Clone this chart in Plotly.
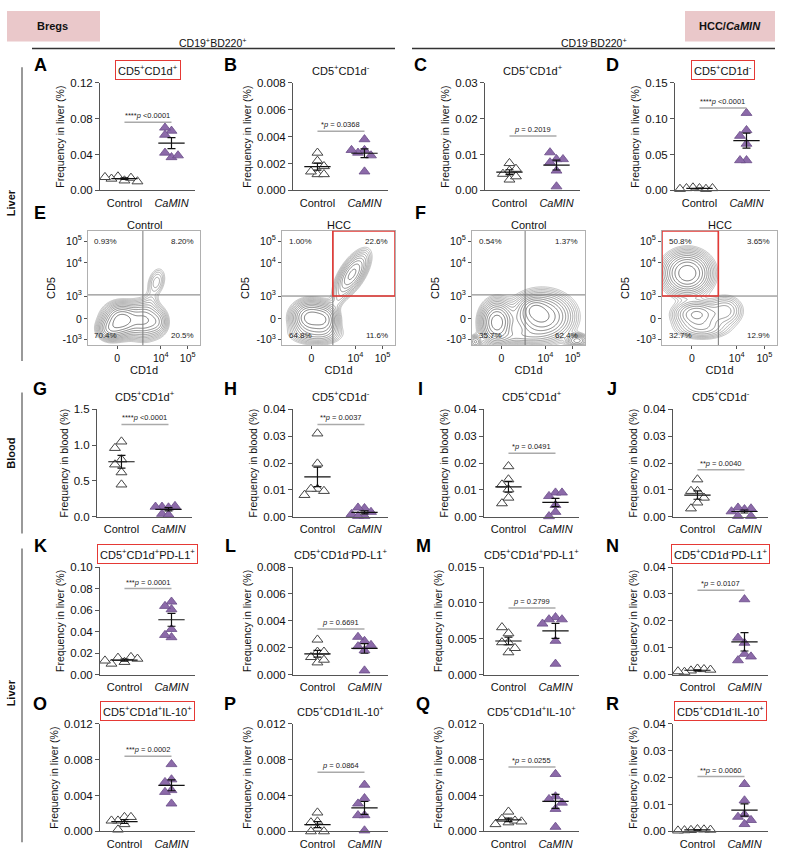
import numpy as np
import plotly.graph_objects as go

W, H = 787, 867
FONT = "Arial, Liberation Sans, Helvetica, sans-serif"
GROUPS = ["Control", "<i>CaMIN</i>"]

# ---------------- scatter data (frequency %) ----------------
A_ctrl = [0.0110, 0.0155, 0.0140, 0.0130, 0.0100, 0.0148]
A_camin = [0.0665, 0.0620, 0.0700, 0.0370, 0.0420, 0.0390]
B_ctrl = [0.0022, 0.0028, 0.0012, 0.0014, 0.0018, 0.0012]
B_camin = [0.0038, 0.0030, 0.0028, 0.0026, 0.0030, 0.0014]
C_ctrl = [0.0076, 0.0055, 0.0030, 0.0046, 0.0060, 0.0039]
C_camin = [0.0087, 0.0106, 0.0087, 0.0078, 0.0055, 0.0011]
D_ctrl = [0.0030, 0.0040, 0.0020, 0.0030, 0.0030, 0.0020]
D_camin = [0.108, 0.084, 0.076, 0.065, 0.042, 0.042]
G_ctrl = [1.05, 0.96, 0.80, 0.73, 0.62, 0.45]
G_camin = [0.13, 0.14, 0.15, 0.14, 0.04, 0.03]
H_ctrl = [0.0310, 0.0198, 0.0104, 0.0104, 0.0096, 0.0081]
H_camin = [0.0032, 0.0034, 0.0018, 0.0010, 0.0003, 0.0003]
I_ctrl = [0.0188, 0.0139, 0.0102, 0.0120, 0.0071, 0.0050]
I_camin = [0.0090, 0.0077, 0.0090, 0.0044, 0.0018, 0.0002]
J_ctrl = [0.0139, 0.0096, 0.0096, 0.0071, 0.0053, 0.0031]
J_camin = [0.0028, 0.0034, 0.0031, 0.0020, 0.0003, 0.0003]
K_ctrl = [0.0117, 0.0156, 0.0163, 0.0101, 0.0147, 0.0130]
K_camin = [0.0678, 0.0607, 0.0638, 0.0423, 0.0347, 0.0368]
L_ctrl = [0.0017, 0.0026, 0.0009, 0.0013, 0.0017, 0.0011]
L_camin = [0.0025, 0.0028, 0.0021, 0.0022, 0.0018, 0.0003]
M_ctrl = [0.00575, 0.0066, 0.0045, 0.0045, 0.0031, 0.0037]
M_camin = [0.0080, 0.0077, 0.0077, 0.0071, 0.0047, 0.0015]
N_ctrl = [0.0022, 0.0015, 0.0020, 0.0010, 0.0018, 0.0012]
N_camin = [0.0280, 0.0118, 0.0137, 0.0077, 0.0053, 0.0067]
O_ctrl = [0.0016, 0.0012, 0.0016, 0.0008, 0.0002, 0.0012]
O_camin = [0.0075, 0.0058, 0.0055, 0.0046, 0.0044, 0.0031]
P_ctrl = [0.0021, 0.0011, 0.0010, 0.0003, 0.0000, 0.0000]
P_camin = [0.0052, 0.0037, 0.0031, 0.0018, 0.0018, 0.0001]
Q_ctrl = [0.0022, 0.0010, 0.0014, 0.0012, 0.0008, 0.0011]
Q_camin = [0.0064, 0.0039, 0.0036, 0.0032, 0.0025, 0.0005]
R_ctrl = [0.0008, 0.0005, 0.0007, 0.0004, 0.0006, 0.0003]
R_camin = [0.0176, 0.0115, 0.0063, 0.0054, 0.0042, 0.0027]

# panel titles, significance labels, axis maxima
TITLES = {
    "A": "CD5<sup>+</sup>CD1d<sup>+</sup>", "B": "CD5<sup>+</sup>CD1d<sup>-</sup>",
    "C": "CD5<sup>+</sup>CD1d<sup>+</sup>", "D": "CD5<sup>+</sup>CD1d<sup>-</sup>",
    "G": "CD5<sup>+</sup>CD1d<sup>+</sup>", "H": "CD5<sup>+</sup>CD1d<sup>-</sup>",
    "I": "CD5<sup>+</sup>CD1d<sup>+</sup>", "J": "CD5<sup>+</sup>CD1d<sup>-</sup>",
    "K": "CD5<sup>+</sup>CD1d<sup>+</sup>PD-L1<sup>+</sup>", "L": "CD5<sup>+</sup>CD1d<sup>-</sup>PD-L1<sup>+</sup>",
    "M": "CD5<sup>+</sup>CD1d<sup>+</sup>PD-L1<sup>+</sup>", "N": "CD5<sup>+</sup>CD1d<sup>-</sup>PD-L1<sup>+</sup>",
    "O": "CD5<sup>+</sup>CD1d<sup>+</sup>IL-10<sup>+</sup>", "P": "CD5<sup>+</sup>CD1d<sup>-</sup>IL-10<sup>+</sup>",
    "Q": "CD5<sup>+</sup>CD1d<sup>+</sup>IL-10<sup>+</sup>", "R": "CD5<sup>+</sup>CD1d<sup>-</sup>IL-10<sup>+</sup>",
}
BOXED = ["A", "D", "K", "N", "O", "R"]
SIG_TEXT = {
    "A": "****<i>p</i> <0.0001", "B": "*<i>p</i> = 0.0368", "C": "<i>p</i> = 0.2019",
    "D": "****<i>p</i> <0.0001", "G": "****<i>p</i> <0.0001", "H": "**<i>p</i> = 0.0037",
    "I": "*<i>p</i> = 0.0491", "J": "**<i>p</i> = 0.0040", "K": "***<i>p</i> = 0.0001",
    "L": "<i>p</i> = 0.6691", "M": "<i>p</i> = 0.2799", "N": "*<i>p</i> = 0.0107",
    "O": "***<i>p</i> = 0.0002", "P": "<i>p</i> = 0.0864", "Q": "*<i>p</i> = 0.0255",
    "R": "**<i>p</i> = 0.0060",
}
SIG_Y = {"A": 0.076, "B": 0.0044, "C": 0.0152, "D": 0.115, "G": 1.29, "H": 0.0344,
         "I": 0.0237, "J": 0.0175, "K": 0.080, "L": 0.0034, "M": 0.0093, "N": 0.0314,
         "O": 0.0084, "P": 0.0066, "Q": 0.0072, "R": 0.0204}
YMAX = {"A": 0.12, "B": 0.008, "C": 0.03, "D": 0.15, "G": 1.5, "H": 0.04, "I": 0.04, "J": 0.04,
        "K": 0.10, "L": 0.008, "M": 0.015, "N": 0.04, "O": 0.012, "P": 0.012, "Q": 0.012, "R": 0.04}
DTICK = {"A": 0.04, "B": 0.002, "C": 0.01, "D": 0.05, "G": 0.5, "H": 0.01, "I": 0.01, "J": 0.01,
         "K": 0.02, "L": 0.002, "M": 0.005, "N": 0.01, "O": 0.004, "P": 0.004, "Q": 0.004, "R": 0.01}
FMT = {"A": ".2f", "B": ".3f", "C": ".2f", "D": ".2f", "G": ".1f", "H": ".2f", "I": ".2f", "J": ".2f",
       "K": ".2f", "L": ".3f", "M": ".3f", "N": ".2f", "O": ".3f", "P": ".3f", "Q": ".3f", "R": ".2f"}
DATA = {"A": (A_ctrl, A_camin), "B": (B_ctrl, B_camin), "C": (C_ctrl, C_camin), "D": (D_ctrl, D_camin),
        "G": (G_ctrl, G_camin), "H": (H_ctrl, H_camin), "I": (I_ctrl, I_camin), "J": (J_ctrl, J_camin),
        "K": (K_ctrl, K_camin), "L": (L_ctrl, L_camin), "M": (M_ctrl, M_camin), "N": (N_ctrl, N_camin),
        "O": (O_ctrl, O_camin), "P": (P_ctrl, P_camin), "Q": (Q_ctrl, Q_camin), "R": (R_ctrl, R_camin)}

# ---------------- flow cytometry contour data (display units 0..1) ----------------
# blobs: (cx, cy, sx, sy, rho, weight)
E_ctrl_blobs = [(0.30, 0.22, 0.08, 0.07, 0.0, 1.0), (0.20, 0.14, 0.06, 0.05, 0.0, 0.4),
                (0.50, 0.22, 0.08, 0.08, 0.0, 0.6), (0.62, 0.20, 0.05, 0.06, 0.0, 0.2),
                (0.61, 0.55, 0.045, 0.07, 0.3, 0.12), (0.56, 0.38, 0.04, 0.05, 0.0, 0.05)]
E_hcc_blobs = [(0.25, 0.24, 0.08, 0.07, 0.0, 1.0), (0.38, 0.22, 0.06, 0.07, 0.0, 0.6),
               (0.30, 0.10, 0.12, 0.05, 0.0, 0.2), (0.62, 0.62, 0.075, 0.10, 0.65, 0.5),
               (0.50, 0.40, 0.04, 0.06, 0.5, 0.06)]
F_ctrl_blobs = [(0.22, 0.20, 0.07, 0.09, 0.0, 0.8), (0.62, 0.25, 0.13, 0.10, 0.0, 0.7),
                (0.55, 0.32, 0.06, 0.05, 0.0, 0.3), (0.93, 0.04, 0.05, 0.03, 0.0, 0.3),
                (0.03, 0.03, 0.03, 0.03, 0.0, 0.2), (0.40, 0.08, 0.14, 0.04, 0.0, 0.12)]
F_hcc_blobs = [(0.22, 0.63, 0.10, 0.09, 0.0, 1.0), (0.30, 0.27, 0.10, 0.06, 0.0, 0.45),
               (0.55, 0.30, 0.08, 0.07, 0.0, 0.2), (0.35, 0.15, 0.12, 0.05, 0.0, 0.2)]
E_ctrl_pct = ["0.93%", "8.20%", "70.4%", "20.5%"]
E_hcc_pct = ["1.00%", "22.6%", "64.8%", "11.6%"]
F_ctrl_pct = ["0.54%", "1.37%", "35.7%", "62.4%"]
F_hcc_pct = ["50.8%", "3.65%", "32.7%", "12.9%"]
FLOW_Y_TICKS = ["-10<sup>3</sup>", "0", "10<sup>3</sup>", "10<sup>4</sup>", "10<sup>5</sup>"]
FLOW_X_TICKS = ["0", "10<sup>4</sup>", "10<sup>5</sup>"]

# ---------------- layout geometry (pixels) ----------------
ROW_Y = {1: (78, 187), 2: (409, 518), 3: (569, 678), 4: (728, 837)}
PANEL_X = {"A": 100, "B": 293, "C": 485, "D": 675, "G": 97, "H": 293, "I": 484, "J": 673,
           "K": 100, "L": 293, "M": 484, "N": 673, "O": 100, "P": 293, "Q": 484, "R": 673}
PANEL_ROW = {"A": 1, "B": 1, "C": 1, "D": 1, "G": 2, "H": 2, "I": 2, "J": 2,
             "K": 3, "L": 3, "M": 3, "N": 3, "O": 4, "P": 4, "Q": 4, "R": 4}
TITLE_Y = {1: 65, 2: 395, 3: 556, 4: 715}
YTITLE = {1: "Frequency in liver (%)", 2: "Frequency in blood (%)",
          3: "Frequency in liver (%)", 4: "Frequency in liver (%)"}
PW = 95
XR = [-0.52, 1.5]

fig = go.Figure()
layout = {}
annotations = []
shapes = []

AX = "#555555"
PURPLE = "#8c6aa9"


def pxx(p):
    return p / W


def pxy(p):
    return 1 - p / H


def text_px(x, y, text, size, bold=False, color="#111", angle=0, **kw):
    if bold:
        text = "<b>" + text + "</b>"
    annotations.append(dict(xref="paper", yref="paper", x=pxx(x), y=pxy(y), text=text,
                            showarrow=False, font=dict(size=size, color=color, family=FONT),
                            textangle=angle, xanchor=kw.pop("xanchor", "center"),
                            yanchor=kw.pop("yanchor", "middle"), **kw))


def swarm(vals, ymax, hpx, unit_px, step=6.5, ysep=7.0):
    placed = []
    offs = []
    for v in vals:
        ypx = v / ymax * hpx
        chosen = 0.0
        for k in [0, -1, 1, -2, 2, -3, 3, -4, 4]:
            xo = k * step
            if all(abs(xo - a) >= step or abs(ypx - b) >= ysep for a, b in placed):
                chosen = xo
                break
        placed.append((chosen, ypx))
        offs.append(chosen / unit_px)
    return offs


n = 0
for L, (ctrl, cam) in DATA.items():
    n += 1
    row = PANEL_ROW[L]
    ytop, ybot = ROW_Y[row]
    x0 = PANEL_X[L]
    xr = "x" if n == 1 else f"x{n}"
    yr = "y" if n == 1 else f"y{n}"
    ymax = YMAX[L]
    layout["xaxis" if n == 1 else f"xaxis{n}"] = dict(
        domain=[pxx(x0), pxx(x0 + PW)], range=XR, anchor=yr, tickmode="array",
        tickvals=[0, 1], ticktext=GROUPS, showline=True, linecolor=AX, linewidth=1,
        ticks="", showgrid=False, zeroline=False, ticklabelstandoff=2,
        tickfont=dict(size=11, color="#111", family=FONT))
    layout["yaxis" if n == 1 else f"yaxis{n}"] = dict(
        domain=[pxy(ybot), pxy(ytop)], range=[0, ymax], anchor=xr, tick0=0, dtick=DTICK[L],
        tickformat=FMT[L], showline=True, linecolor=AX, linewidth=1, ticks="outside",
        ticklen=4, tickcolor=AX, showgrid=False, zeroline=False,
        tickfont=dict(size=11.5, color="#111", family=FONT),
        title=dict(text=YTITLE[row], font=dict(size=10.5, color="#111", family=FONT), standoff=3))
    unit_px = PW / (XR[1] - XR[0])
    hpx = ybot - ytop
    for gi, (vals, filled) in enumerate([(ctrl, False), (cam, True)]):
        offs = swarm(vals, ymax, hpx, unit_px)
        fig.add_trace(go.Scatter(
            x=[gi + o for o in offs], y=vals, mode="markers", xaxis=xr, yaxis=yr,
            cliponaxis=False, hoverinfo="skip",
            marker=dict(symbol="triangle-up", size=9.5,
                        color=PURPLE if filled else "white",
                        line=dict(color="#6a4d88" if filled else "#444", width=0.8 if filled else 1))))
    for gi, vals in enumerate([ctrl, cam]):
        arr = np.array(vals)
        m = arr.mean()
        sem = arr.std(ddof=1) / np.sqrt(len(arr))
        fig.add_trace(go.Scatter(x=[gi - 0.28, gi + 0.28], y=[m, m], mode="lines",
                                 xaxis=xr, yaxis=yr, hoverinfo="skip", cliponaxis=False,
                                 line=dict(color="#111", width=1.2)))
        fig.add_trace(go.Scatter(x=[gi], y=[m], mode="markers", xaxis=xr, yaxis=yr,
                                 hoverinfo="skip", marker=dict(size=1, color="rgba(0,0,0,0)"),
                                 error_y=dict(type="data", array=[sem], visible=True,
                                              color="#111", thickness=1.2, width=4)))
    # significance bar
    shapes.append(dict(type="line", xref=xr, yref=yr, x0=0, x1=1, y0=SIG_Y[L], y1=SIG_Y[L],
                       line=dict(color="#aaaaaa", width=1.5)))
    annotations.append(dict(xref=xr, yref=yr, x=0.5, y=SIG_Y[L], text=SIG_TEXT[L],
                            showarrow=False, yanchor="bottom", yshift=0,
                            font=dict(size=7.5, color="#222", family=FONT)))
    # panel title
    tx = x0 + PW / 2
    boxed = L in BOXED
    annotations.append(dict(xref="paper", yref="paper", x=pxx(tx), y=pxy(TITLE_Y[row]),
                            text=TITLES[L], showarrow=False, xanchor="center", yanchor="middle",
                            font=dict(size=11, color="#111", family=FONT),
                            bordercolor="#e53935" if boxed else "rgba(0,0,0,0)",
                            borderwidth=1 if boxed else 0, borderpad=2))

# ---------------- flow panels ----------------
FLOW = [("E_ctrl", 88, 200, E_ctrl_blobs, E_ctrl_pct, 0.49, 0.44, None, "Control"),
        ("E_hcc", 282, 395, E_hcc_blobs, E_hcc_pct, 0.45, 0.43, "UR", "HCC"),
        ("F_ctrl", 472, 585, F_ctrl_blobs, F_ctrl_pct, 0.47, 0.44, None, "Control"),
        ("F_hcc", 662, 777, F_hcc_blobs, F_hcc_pct, 0.49, 0.43, "UL", "HCC")]
FY0, FY1 = 228, 344
g = np.linspace(0, 1, 161)
GX, GY = np.meshgrid(g, g)
for name, fx0, fx1, blobs, pcts, qx, qy, gate, ftitle in FLOW:
    n += 1
    xr, yr = f"x{n}", f"y{n}"
    Z = np.zeros_like(GX)
    for cx, cy, sx, sy, rho, w in blobs:
        dx = (GX - cx) / sx
        dy = (GY - cy) / sy
        q = (dx * dx - 2 * rho * dx * dy + dy * dy) / (1 - rho * rho)
        Z += w * np.exp(-0.5 * q)
    LZ = np.log10(Z / Z.max() + 1e-9)
    fig.add_trace(go.Contour(x=g, y=g, z=LZ, xaxis=xr, yaxis=yr, showscale=False,
                             hoverinfo="skip", line=dict(width=0.7, smoothing=1),
                             contours=dict(start=-1.55, end=-0.06, size=0.13, coloring="lines"),
                             colorscale=[[0, "#a8a8a8"], [1, "#3c3c3c"]]))
    layout[f"xaxis{n}"] = dict(domain=[pxx(fx0), pxx(fx1)], range=[0, 1], anchor=yr,
                               showline=True, mirror=True, linecolor="#b0b0b0", linewidth=1,
                               ticks="outside", ticklen=3, tickcolor="#555", showgrid=False,
                               zeroline=False, tickmode="array", tickvals=[0.26, 0.65, 0.89],
                               ticktext=FLOW_X_TICKS, tickfont=dict(size=10.5, color="#111", family=FONT),
                               title=dict(text="CD1d", font=dict(size=11, color="#111", family=FONT), standoff=2))
    layout[f"yaxis{n}"] = dict(domain=[pxy(FY1), pxy(FY0)], range=[0, 1], anchor=xr,
                               showline=True, mirror=True, linecolor="#b0b0b0", linewidth=1,
                               ticks="outside", ticklen=3, tickcolor="#555", showgrid=False,
                               zeroline=False, tickmode="array",
                               tickvals=[0.05, 0.23, 0.43, 0.72, 0.91], ticktext=FLOW_Y_TICKS,
                               tickfont=dict(size=10.5, color="#111", family=FONT),
                               title=dict(text="CD5", font=dict(size=11, color="#111", family=FONT), standoff=4))
    shapes.append(dict(type="line", xref=xr, yref=yr, x0=qx, x1=qx, y0=0, y1=1,
                       line=dict(color="#777", width=1)))
    shapes.append(dict(type="line", xref=xr, yref=yr, x0=0, x1=1, y0=qy, y1=qy,
                       line=dict(color="#777", width=1)))
    if gate == "UR":
        shapes.append(dict(type="rect", xref=xr, yref=yr, x0=qx, x1=1, y0=qy, y1=1,
                           line=dict(color="#e53935", width=1.6)))
    elif gate == "UL":
        shapes.append(dict(type="rect", xref=xr, yref=yr, x0=0, x1=qx, y0=qy, y1=1,
                           line=dict(color="#e53935", width=1.6)))
    for (px_, py_, xa_, ya_), t in zip([(0.04, 0.96, "left", "top"), (0.96, 0.96, "right", "top"),
                                        (0.04, 0.03, "left", "bottom"), (0.96, 0.03, "right", "bottom")], pcts):
        annotations.append(dict(xref=xr, yref=yr, x=px_, y=py_, text=t, showarrow=False,
                                xanchor=xa_, yanchor=ya_,
                                font=dict(size=8, color="#222", family=FONT)))
    text_px((fx0 + fx1) / 2, 222, ftitle, 11)

# ---------------- panel letters ----------------
for letter, (lx, ly) in {"A": (40, 60), "B": (230, 60), "C": (421, 60), "D": (612, 60),
                         "E": (40, 210), "F": (421, 210),
                         "G": (40, 388), "H": (230, 388), "I": (421, 388), "J": (612, 388),
                         "K": (40, 548), "L": (230, 548), "M": (423, 548), "N": (612, 548),
                         "O": (40, 708), "P": (230, 708), "Q": (423, 708), "R": (612, 708)}.items():
    text_px(lx, ly, letter, 18, bold=True, color="#000")

# ---------------- header ----------------
shapes.append(dict(type="rect", xref="paper", yref="paper", x0=pxx(7), x1=pxx(100), y0=pxy(36), y1=pxy(5),
                   fillcolor="#eac8ca", line=dict(width=0)))
shapes.append(dict(type="rect", xref="paper", yref="paper", x0=pxx(685), x1=pxx(775), y0=pxy(36), y1=pxy(5),
                   fillcolor="#eac8ca", line=dict(width=0)))
text_px(53, 20, "Bregs", 11, bold=True)
text_px(730, 20, "HCC/<i>CaMIN</i>", 11, bold=True)
text_px(213, 37, "CD19<sup>+</sup>BD220<sup>+</sup>", 10.5)
text_px(594, 37, "CD19<sup>-</sup>BD220<sup>+</sup>", 10.5)
shapes.append(dict(type="line", xref="paper", yref="paper", x0=pxx(32), x1=pxx(395), y0=pxy(43), y1=pxy(43),
                   line=dict(color="#333", width=1.5)))
shapes.append(dict(type="line", xref="paper", yref="paper", x0=pxx(412), x1=pxx(775), y0=pxy(43), y1=pxy(43),
                   line=dict(color="#333", width=1.5)))

# ---------------- left tissue labels ----------------
for (ya, yb) in [(62, 360), (392, 535), (550, 848)]:
    shapes.append(dict(type="line", xref="paper", yref="paper", x0=pxx(22), x1=pxx(22), y0=pxy(ya), y1=pxy(yb),
                       line=dict(color="#999", width=2)))
text_px(11, 200, "Liver", 11, bold=True, angle=-90)
text_px(11, 454, "Blood", 11, bold=True, angle=-90)
text_px(11, 697, "Liver", 11, bold=True, angle=-90)

fig.update_layout(width=W, height=H, margin=dict(l=0, r=0, t=0, b=0), showlegend=False,
                  paper_bgcolor="white", plot_bgcolor="white",
                  font=dict(family=FONT, color="#111"),
                  annotations=annotations, shapes=shapes, **layout)
fig.write_html("out.html", config={"displayModeBar": False, "staticPlot": True},
               post_script="document.body.style.margin='0px';")
